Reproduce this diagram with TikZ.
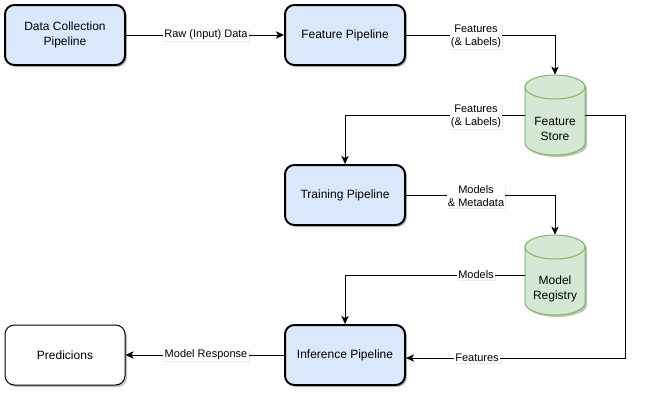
\documentclass[tikz,border=0pt]{standalone}
\usepackage{fontspec}
\setmainfont{Liberation Sans}
\usetikzlibrary{arrows.meta,shadows}
\definecolor{bluefill}{HTML}{DAE8FC}
\definecolor{greenfill}{HTML}{D5E8D4}
\definecolor{greenline}{HTML}{82B366}
\begin{document}
\begin{tikzpicture}[x=0.75pt,y=-0.75pt,
  shad/.style={drop shadow={opacity=0.25,shadow xshift=1.5pt,shadow yshift=-1.5pt,fill=black}},
  proc/.style={draw=black,line width=1.5pt,fill=bluefill,rounded corners=7pt,
    minimum width=90pt,minimum height=45pt,align=center,inner sep=2pt,
    font=\fontsize{9}{11.25}\selectfont,shad},
  outbox/.style={proc,fill=white,line width=0.75pt},
  anchorbox/.style={minimum width=45pt,minimum height=60pt,inner sep=0pt},
  cyltext/.style={align=center,font=\fontsize{9}{11.25}\selectfont,inner sep=0pt},
  conn/.style={line width=0.75pt,-{Stealth[length=6pt,width=5.5pt,inset=1.5pt]}},
  lbl/.style={fill=white,inner sep=1pt,align=center,font=\fontsize{8.25}{9.75}\selectfont,
    drop shadow={opacity=0.08,shadow xshift=0.75pt,shadow yshift=-0.75pt,fill=black}},
  pics/cyl/.style={code={
    \begin{scope}[shift={(2,2)}]
      \fill[black,opacity=0.25] (-30,-28) -- (-30,28) arc[start angle=180,end angle=360,x radius=22.5pt,y radius=9pt] -- (30,-28) arc[start angle=0,end angle=180,x radius=22.5pt,y radius=9pt] -- cycle;
    \end{scope}
    \filldraw[fill=greenfill,draw=greenline,line width=0.75pt] (-30,-28) -- (-30,28) arc[start angle=180,end angle=360,x radius=22.5pt,y radius=9pt] -- (30,-28) arc[start angle=0,end angle=180,x radius=22.5pt,y radius=9pt] -- cycle;
    \draw[draw=greenline,line width=0.75pt] (-30,-28) arc[start angle=180,end angle=360,x radius=22.5pt,y radius=9pt];
  }}]
\useasboundingbox (0,0) rectangle (645,405);

\node[proc] (dc) at (65,35) {Data Collection\\Pipeline};
\node[proc] (fp) at (345,35) {Feature Pipeline};
\node[proc] (tp) at (345,195) {Training Pipeline};
\node[proc] (ip) at (345,355) {Inference Pipeline};
\node[outbox] (pr) at (65,355) {Predicions};

\pic at (555,115) {cyl};
\node[anchorbox] (fs) at (555,115) {};
\node[cyltext] (fst) at (555,129) {Feature\\Store};
\pic at (555,275) {cyl};
\node[anchorbox] (mr) at (555,275) {};
\node[cyltext] (mrt) at (555,289) {Model\\Registry};

\coordinate (fin) at ([yshift=-2.25pt]ip.east);

\draw[conn] (dc) -- (fp);
\draw[conn] (fp.east) -| (fs.north);
\draw[conn] (fs.west) -| (tp.north);
\draw[conn] (tp.east) -| (mr.north);
\draw[conn] (mr.west) -| (ip.north);
\draw[conn] (fs.east) -- ++(40,0) |- (fin);
\draw[conn] (ip) -- (pr);

\node[lbl] (l1) at (206,35) {Raw (Input) Data};
\node[lbl] (l2) at (476,36) {Features\\(\& Labels)};
\node[lbl] (l3) at (476,116) {Features\\(\& Labels)};
\node[lbl] (l4) at (476,196) {Models\\\& Metadata};
\node[lbl] (l5) at (476,275) {Models};
\node[lbl] (l6) at (477,358) {Features};
\node[lbl] (l7) at (206,355) {Model Response};
\end{tikzpicture}
\end{document}
